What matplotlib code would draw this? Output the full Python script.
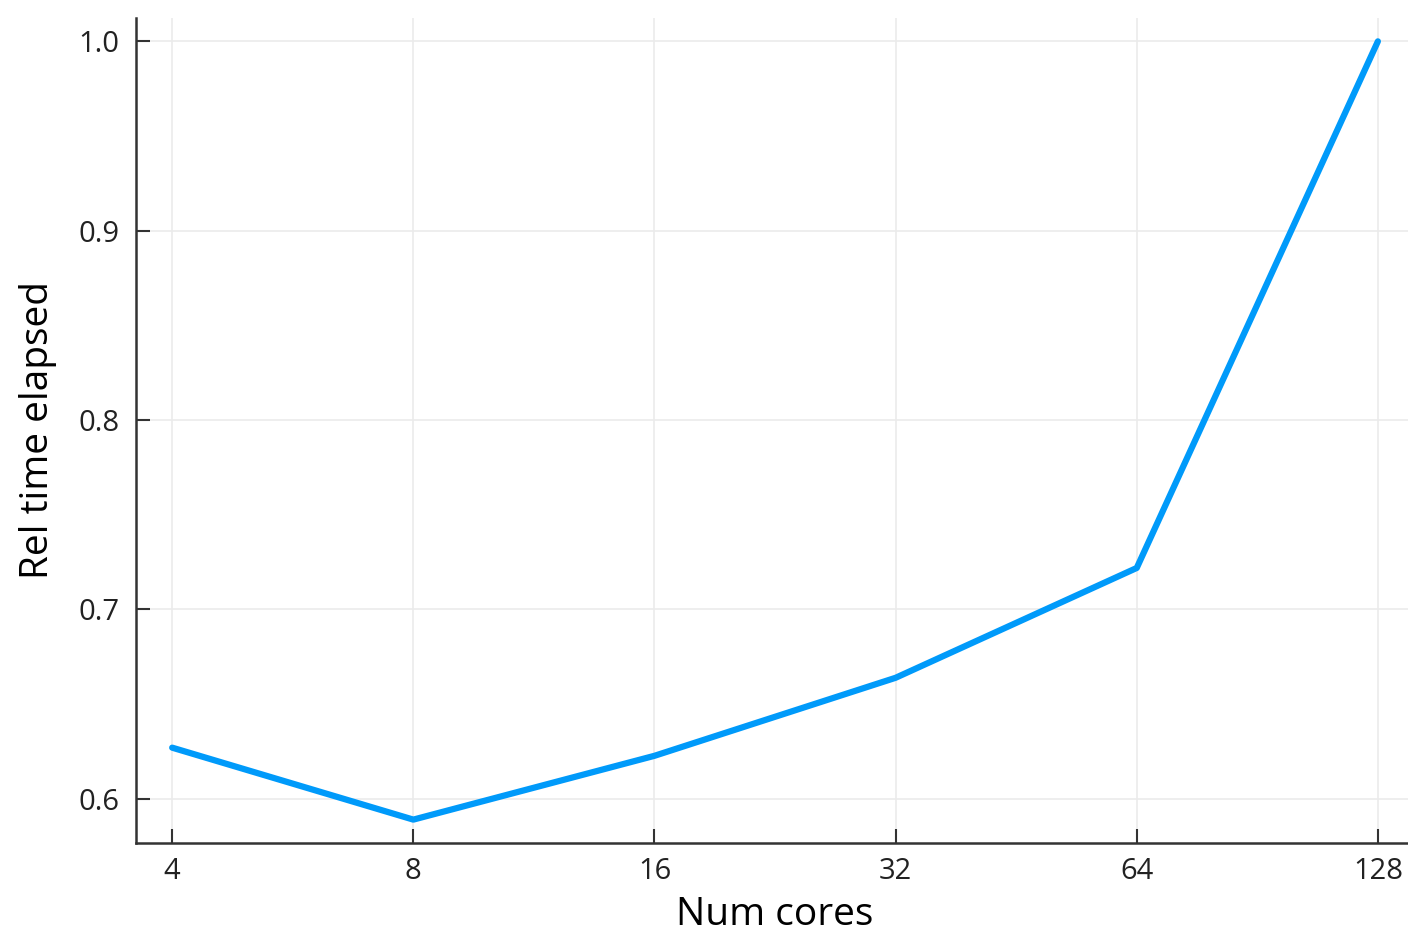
import matplotlib
matplotlib.use("Agg")
import matplotlib.pyplot as plt

plt.rcParams['font.family'] = ['Open Sans', 'DejaVu Sans']

cores = [4, 8, 16, 32, 64, 128]
rel_time = [0.627, 0.589, 0.6227, 0.6639, 0.7219, 1.0]
yticks = [0.6, 0.7, 0.8, 0.9, 1.0]

fig = plt.figure(figsize=(14.08, 9.33), dpi=100)
# axes runs slightly past the right edge, as in the reference
ax = fig.add_axes([0.0966, 0.0965, 0.9077, 0.8842])

ax.plot(cores, rel_time, color='#009AFA', lw=4.5, solid_capstyle='round')

ax.set_xscale('log', base=2)
ax.set_xticks(cores)
ax.set_xticklabels([str(c) for c in cores])
ax.minorticks_off()
ax.set_yticks(yticks)
ax.set_yticklabels([f"{v:.1f}" for v in yticks])

span = 7 - 2
ax.set_xlim(2 ** (2 - 0.03 * span), 2 ** (7 + 0.03 * span))
yspan = 1.0 - 0.589
ax.set_ylim(0.589 - 0.03 * yspan, 1.0 + 0.03 * yspan)

ax.grid(True, color='#ebebeb', lw=1.2)
ax.set_axisbelow(True)
for s in ['top', 'right']:
    ax.spines[s].set_visible(False)
for s in ['left', 'bottom']:
    ax.spines[s].set_linewidth(1.8)
    ax.spines[s].set_color('#333333')
ax.tick_params(direction='in', length=10, width=1.5, color='#333333',
               labelsize=21, labelcolor='#222222', pad=10)
ax.tick_params(axis='y', pad=12)

ax.set_xlabel('Num cores', fontsize=28, labelpad=7)
ax.set_ylabel('Rel time elapsed', fontsize=28, labelpad=15)

fig.savefig('out.png', dpi=100)
